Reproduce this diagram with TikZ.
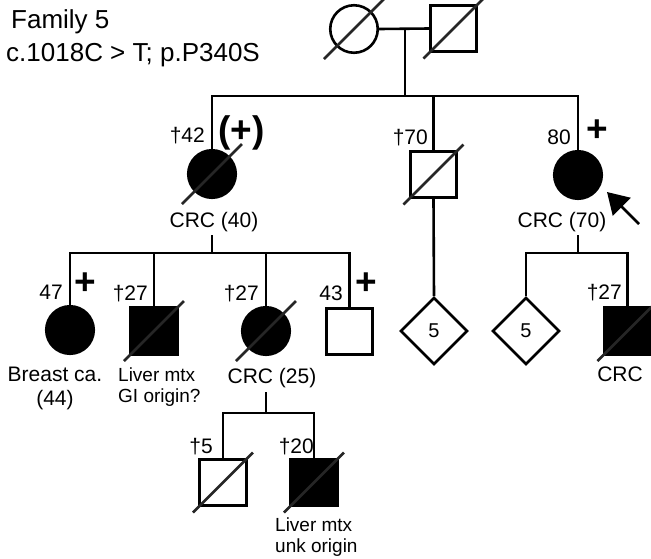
\documentclass[tikz,border=0pt]{standalone}
\usepackage{fontspec}
\setmainfont{Liberation Sans}
\usetikzlibrary{positioning,arrows.meta,shapes.geometric,calc}

\tikzset{
  ped/.style={draw, line width=2.6pt, inner sep=0pt},
  female/.style={ped, circle, minimum size=47.5pt},
  male/.style={ped, rectangle, minimum size=46.5pt},
  unknown/.style={ped, diamond, minimum width=67pt, minimum height=67pt,
                  font=\fontsize{20}{22}\selectfont},
  affected/.style={fill=black},
  slash/.style={line width=2.6pt, draw=black!85},
  line/.style={line width=2.6pt},
  lbl/.style={inner sep=0pt, font=\fontsize{21}{24}\selectfont},
  note/.style={inner sep=0pt, align=left, font=\fontsize{19}{21}\selectfont},
  carrier/.style={inner sep=0pt, font=\bfseries\fontsize{37}{37}\selectfont},
}
\newcommand{\dead}[1]{\draw[slash] ($(#1.center)+(-30,30)$) -- ($(#1.center)+(30,-30)$);}

\begin{document}
\begin{tikzpicture}[x=1pt, y=-1pt]
% y runs downward: one unit is one pixel of the 651x558 picture
\useasboundingbox (0,0) rectangle (651,558);
\node[anchor=base west, inner sep=0pt, font=\fontsize{26}{30}\selectfont] (fam) at (11,28) {Family 5};
\node[anchor=base west, inner sep=0pt, font=\fontsize{26}{30}\selectfont] (mut) at (6,61) {c.1018C > T; p.P340S};
% generation I
\node[female] (gm) at (354,29) {};
\node[male] (gf) at (453.5,28.5) {};
% generation II
\node[female, affected] (ii1) at (212,174) {};
\node[male] (ii2) at (433.5,174.5) {};
\node[female, affected] (ii3) at (578,175) {};
% generation III
\node[female, affected] (iii1) at (70,330) {};
\node[male, affected] (iii2) at (154,331) {};
\node[female, affected] (iii3) at (266,331) {};
\node[male] (iii4) at (349.5,331.5) {};
\node[unknown] (iii5) at (434,331) {5};
\node[unknown] (iii6) at (526,331) {5};
\node[male, affected] (iii7) at (627.5,331) {};
% generation IV
\node[male] (iv1) at (223,482.5) {};
\node[male, affected] (iv2) at (314,482.5) {};
\foreach \p in {gm,gf,ii1,ii2,iii2,iii3,iii7,iv1,iv2}{\dead{\p}}
% lines of descent
\coordinate (mI) at (405,29);
\coordinate (sibII) at (405,96);
\draw[line] (gm.east) -- (gf.west);
\draw[line] (mI) -- (sibII);
\draw[line] (ii1.north) |- (sibII) -| (ii3.north);
\draw[line] (ii2.north) -- (ii2.north |- sibII);
\coordinate (dII1) at (212,235);
\coordinate (sibIIIa) at (212,253);
\draw[line] (dII1) -- (sibIIIa);
\draw[line] (iii1.north) |- (sibIIIa) -| (iii4.north);
\draw[line] (iii2.north) -- (iii2.north |- sibIIIa);
\draw[line] (iii3.north) -- (iii3.north |- sibIIIa);
\draw[line] (ii2.south) -- (iii5.north);
\coordinate (dII3) at (578,235);
\coordinate (sibIIIb) at (578,253);
\draw[line] (dII3) -- (sibIIIb);
\draw[line] (iii6.north) |- (sibIIIb) -| (iii7.north);
\coordinate (dIII3) at (266,392);
\coordinate (sibIV) at (266,413);
\draw[line] (dIII3) -- (sibIV);
\draw[line] (iv1.north) |- (sibIV) -| (iv2.north);
% proband
\coordinate (arrtail) at (639,224);
\coordinate (arrtip) at (607,192);
\draw[line, -{Triangle[length=21pt,width=25pt]}] (arrtail) -- (arrtip);
% ages, carrier status and diagnoses
\node[lbl, anchor=base east] (aii1) at (205,142) {†42};
\node[carrier] (cii1) at (241.5,132.5) {(+)};
\node[lbl, anchor=base] (dxii1) at (214,227) {CRC (40)};
\node[lbl, anchor=base east] (aii2) at (428,144) {†70};
\node[lbl, anchor=base east] (aii3) at (571,144) {80};
\node[carrier] (cii3) at (597,130.5) {+};
\node[lbl, anchor=base] (dxii3) at (562,227) {CRC (70)};
\node[lbl, anchor=base east] (aiii1) at (63,299) {47};
\node[carrier] (ciii1) at (85.5,284) {+};
\node[lbl, anchor=north, align=center] (dxiii1) at (55,367) {Breast ca.\\(44)};
\node[lbl, anchor=base east] (aiii2) at (148,300) {†27};
\node[note, anchor=north west] (dxiii2) at (118,368) {Liver mtx\\GI origin?};
\node[lbl, anchor=base east] (aiii3) at (259,300) {†27};
\node[lbl, anchor=base] (dxiii3) at (272,383) {CRC (25)};
\node[lbl, anchor=base east] (aiii4) at (343,300) {43};
\node[carrier] (ciii4) at (366.5,284) {+};
\node[lbl, anchor=base east] (aiii7) at (622,299) {†27};
\node[lbl, anchor=base] (dxiii7) at (620,381) {CRC};
\node[lbl, anchor=base east] (aiv1) at (213,453) {†5};
\node[lbl, anchor=base east] (aiv2) at (314,453) {†20};
\node[note, anchor=north west] (dxiv2) at (275,518) {Liver mtx\\unk origin};
\end{tikzpicture}
\end{document}
